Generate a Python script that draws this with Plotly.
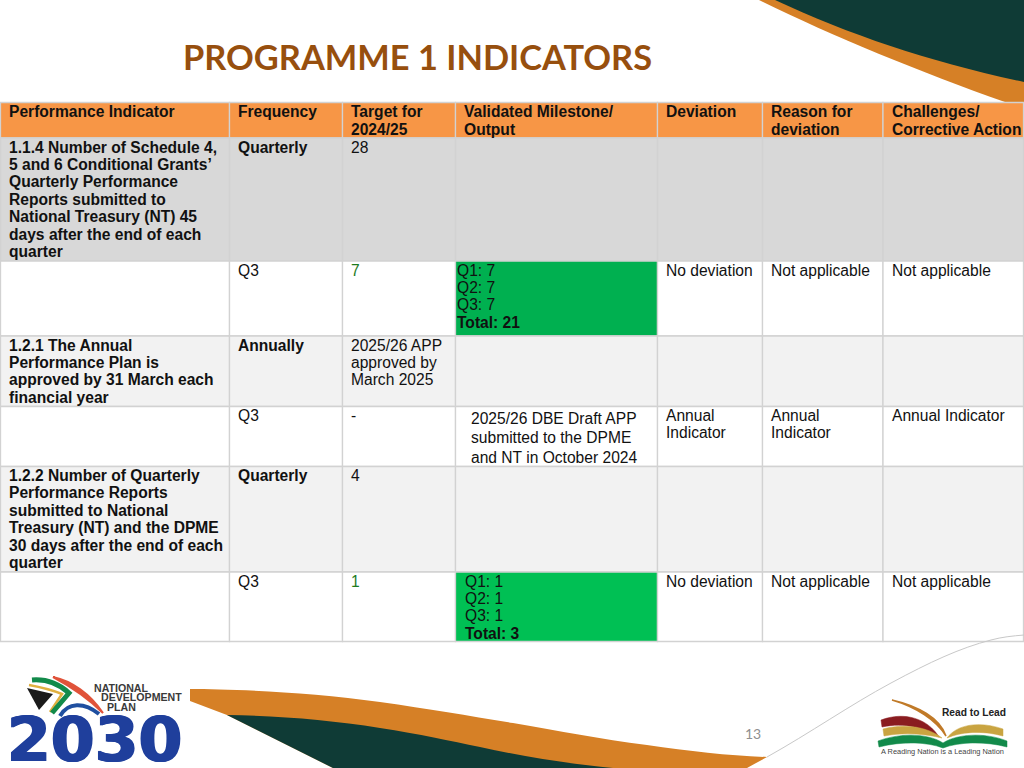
import plotly.graph_objects as go

# ---------- table content ----------
title = "PROGRAMME 1 INDICATORS"
page_number = "13"
headers = ["Performance Indicator", "Frequency", "Target for\n2024/25", "Validated Milestone/\nOutput",
           "Deviation", "Reason for\ndeviation", "Challenges/\nCorrective Action"]
indicator = ["1.1.4 Number of Schedule 4,\n5 and 6 Conditional Grants’\nQuarterly Performance\nReports submitted to\nNational Treasury (NT) 45\ndays after the end of each\nquarter",
             "",
             "1.2.1 The Annual\nPerformance Plan is\napproved by 31 March each\nfinancial year",
             "",
             "1.2.2 Number of Quarterly\nPerformance Reports\nsubmitted to National\nTreasury (NT) and the DPME\n30 days after the end of each\nquarter",
             ""]
frequency = ["Quarterly", "Q3", "Annually", "Q3", "Quarterly", "Q3"]
target = ["28", "7", "2025/26 APP\napproved by\nMarch 2025", "-", "4", "1"]
milestone = ["", "Q1: 7\nQ2: 7\nQ3: 7\n<b>Total: 21</b>", "",
             "2025/26 DBE Draft APP\nsubmitted to the DPME\nand NT in October 2024", "",
             "Q1: 1\nQ2: 1\nQ3: 1\n<b>Total: 3</b>"]
deviation = ["", "No deviation", "", "Annual\nIndicator", "", "No deviation"]
reason = ["", "Not applicable", "", "Annual\nIndicator", "", "Not applicable"]
challenges = ["", "Not applicable", "", "Annual Indicator", "", "Not applicable"]
columns = [indicator, frequency, target, milestone, deviation, reason, challenges]

# ---------- layout of the table ----------
col_edges = [0.5, 229.5, 342.5, 455.5, 657.5, 762.5, 883, 1023.5]
row_edges = [102.5, 138, 261, 336, 406.5, 466.5, 572, 641.5]
row_fill = ["#D8D8D8", "#FFFFFF", "#F2F2F2", "#FFFFFF", "#F2F2F2", "#FFFFFF"]
HEAD = "#F79646"
GRID = "#D2D2D2"
TXT = "#111111"
FS = 15.6
LH = 17.4
FONT = "Liberation Sans"

shapes, notes = [], []


def poly(path, fill, line=None, w=0):
    shapes.append(dict(type="path", path=path, fillcolor=fill, xref="x", yref="y", layer="below",
                       line=dict(color=line or fill, width=w)))


def stroke(path, color, w):
    shapes.append(dict(type="path", path=path, xref="x", yref="y", layer="below",
                       line=dict(color=color, width=w)))


def label(x, y, text, size=FS, color=TXT, font=FONT, anchor="left", shadow=None):
    f = dict(family=font, size=size, color=color)
    if shadow:
        f["shadow"] = shadow
    notes.append(dict(x=x, y=y, xref="x", yref="y", text=text, showarrow=False, xanchor=anchor,
                      yanchor="middle", align=anchor, borderpad=0, borderwidth=0, font=f))


def rect(x0, y0, x1, y1, fill):
    shapes.append(dict(type="rect", x0=x0, y0=y0, x1=x1, y1=y1, xref="x", yref="y", layer="below",
                       fillcolor=fill, line=dict(color=GRID, width=1.3)))


# ---------- decorative swooshes ----------
ORANGE = "#D68026"
DARK = "#0F3B36"
poly("M 759,0 C 830,35 920,72 1005,102 L 1024,102 L 1024,0 Z", ORANGE)
poly("M 775,0 C 850,35 930,62 1024,82 L 1024,0 Z", DARK)
poly("M 190,689 C 230,689 310,692 380,702 C 430,709 470,716 513,723 C 560,731 600,739 647,745 "
     "C 690,751 730,756 767,757 L 747,768 L 333,768 L 227,715 L 190,701 Z", ORANGE)
poly("M 227,715 C 280,716 330,720 380,728 C 420,734 450,741 480,747 C 525,757 570,764 613,768 L 333,768 Z", DARK)

# ---------- table cells ----------
for j in range(7):
    rect(col_edges[j], row_edges[0], col_edges[j + 1], row_edges[1], HEAD)
    for i, fill in enumerate(row_fill):
        f = fill
        if j == 3 and i == 1:
            f = "#00B050"
        if j == 3 and i == 5:
            f = "#00C054"
        rect(col_edges[j], row_edges[i + 1], col_edges[j + 1], row_edges[i + 2], f)

stroke("M 767,757 C 810,733 850,705 891,683 C 930,662 960,648 991,640 C 1002,637 1012,636 1024,635", "#C8C8C8", 1)

for j, head in enumerate(headers):
    for k, ln in enumerate(head.split("\n")):
        label(col_edges[j] + 8.5, row_edges[0] + 9.2 + k * LH, f"<b>{ln}</b>")

for j, col in enumerate(columns):
    for i, cell in enumerate(col):
        if not cell:
            continue
        x = col_edges[j] + 8.5
        y0 = row_edges[i + 1] + 9
        step = LH
        color = TXT
        if j == 3 and i == 1:
            x = 457
        if j == 3 and i == 3:
            x = 471; y0 = 418; step = 19.8
        if j == 3 and i == 5:
            x = 465
        if j == 2 and i in (1, 5):
            color = "#1E7B1E"
        for k, ln in enumerate(cell.split("\n")):
            txt = f"<b>{ln}</b>" if (j < 2 and i % 2 == 0) else ln
            label(x, y0 + k * step, txt, color=color)

# ---------- title / page number ----------
label(183, 56.5, f"<b>{title}</b>", size=34.4, color="#974F0E", font="Lato")
label(753, 733.5, page_number, size=14, color="#8F8F8F", font="Lato", anchor="center")

# ---------- NDP logo ----------
poly("M 27,688 L 53,694 L 39,710 Z", "#1A1A1A")
stroke("M 29,685 C 40,687 52,690 62,694 L 50,712", "#E0B040", 2.5)
stroke("M 32,680 C 45,679 58,683 69,693 L 52,713", "#128A4A", 5)
poly("M 53,677 C 72,681 90,694 103,713 C 88,698 70,686 53,677 Z", "#E0533A", "#E0533A", 2)
stroke("M 60,716 C 68,702 84,702 99,714", "#1F4FA0", 4)
label(94, 687.5, "<b>NATIONAL</b>", size=10.6, color="#3A3A3A")
label(101, 697, "<b>DEVELOPMENT</b>", size=10.6, color="#3A3A3A")
label(107, 707, "<b>PLAN</b>", size=10.6, color="#3A3A3A")
label(94.5, 739, "<b>2030</b>", size=63, color="#1F3F9C", font="DejaVu Sans", anchor="center",
      shadow="1px 0 #1F3F9C, -1px 0 #1F3F9C")

# ---------- Read to Lead logo ----------
poly("M 892,700 C 918,706 940,718 946,736 C 936,720 916,707 892,700 Z", "#C07A28", "#C07A28", 1.5)
poly("M 881,720 C 905,711 928,719 939,737 C 925,728 905,722 882,727 Z", "#8A1C20", "#8A1C20", 0.5)
poly("M 883,729 C 905,723 928,727 942,738 C 925,734 905,732 884,736 Z", "#C9A441", "#C9A441", 0.5)
poly("M 947,738 C 957,724 980,721 1003,729 L 1003,736 C 982,730 960,732 947,738 Z", "#C9A441", "#C9A441", 0.5)
poly("M 878,741 C 902,732 930,734 943,743 C 956,734 985,732 1007,741 L 1007,747 C 985,741 958,742 943,748 C 928,742 902,741 879,747 Z", "#128A4A", "#128A4A", 0.5)
label(974, 712, "<b>Read to Lead</b>", size=10.2, color="#222222", anchor="center")
label(942, 751, "A Reading Nation is a Leading Nation", size=7.4, color="#444444", anchor="center")

fig = go.Figure()
fig.update_layout(width=1024, height=768, margin=dict(l=0, r=0, t=0, b=0),
                  paper_bgcolor="white", plot_bgcolor="white", showlegend=False,
                  xaxis=dict(range=[0, 1024], visible=False, fixedrange=True),
                  yaxis=dict(range=[768, 0], visible=False, fixedrange=True),
                  shapes=shapes, annotations=notes)
fig.write_html("out.html", config=dict(displayModeBar=False),
               post_script="document.body.style.margin='0';document.body.style.overflow='hidden';")
